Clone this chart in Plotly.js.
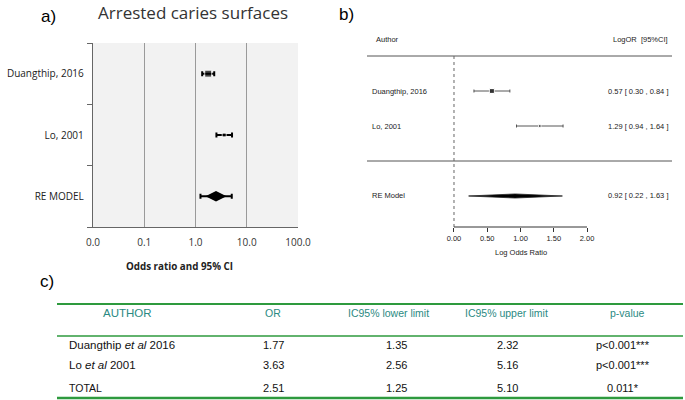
<!DOCTYPE html>
<html><head><meta charset="utf-8">
<script src="https://cdn.plot.ly/plotly-3.0.1.min.js"></script>
<style>html,body{margin:0;padding:0;background:#fff}#chart{width:685px;height:400px}</style>
</head><body><div id="chart"></div>
<script>
// ---------- Panel a data (odds ratios, log scale) ----------
const studiesA = ['Duangthip, 2016', 'Lo, 2001'];
const oddsRatiosA = [1.77, 3.63];
const lowerA = [1.35, 2.56];
const upperA = [2.32, 5.16];
const modelLabelA = 'RE MODEL';
const modelOR = [2.51];
const modelLower = [1.25];
const modelUpper = [5.10];
const tickValsA = [0.01, 0.1, 1, 10, 100];
const tickTextA = ['0.0', '0.1', '1.0', '10.0', '100.0'];

// ---------- Panel b data (log odds ratios) ----------
const studiesB = ['Duangthip, 2016', 'Lo, 2001'];
const logOR = [0.57, 1.29];
const logLower = [0.30, 0.94];
const logUpper = [0.84, 1.64];
const modelLabelB = 'RE Model';
const modelLogOR = [0.92];
const modelLogLower = [0.22];
const modelLogUpper = [1.63];
const tickValsB = [0, 0.5, 1, 1.5, 2];
const tickTextB = ['0.00', '0.50', '1.00', '1.50', '2.00'];

// ---------- Panel c table ----------
const tableHeader = ['AUTHOR', 'OR', 'IC95% lower limit', 'IC95% upper limit', 'p-value'];
const tableAuthors = ['Duangthip <i>et al</i> 2016', 'Lo <i>et al</i> 2001', 'TOTAL'];
const tableOR = ['1.77', '3.63', '2.51'];
const tableLower = ['1.35', '2.56', '1.25'];
const tableUpper = ['2.32', '5.16', '5.10'];
const tablePvalue = ['p&lt;0.001***', 'p&lt;0.001***', '0.011*'];

// ---------- helpers ----------
const W = 685, H = 400;
const PX = x => x / W;
const PY = y => 1 - y / H;
const fontA = 'Open Sans, DejaVu Sans, sans-serif';
const fontB = 'Liberation Sans, Arial, sans-serif';

const traces = [];
const annotations = [];
const shapes = [];

// ---------- Panel a ----------
traces.push({
  type: 'scatter', mode: 'markers', xaxis: 'x', yaxis: 'y',
  x: oddsRatiosA, y: studiesA,
  marker: {symbol: 'square', size: [7, 4], color: '#000'},
  error_x: {type: 'data', symmetric: false,
    array: oddsRatiosA.map((v, i) => upperA[i] - v),
    arrayminus: oddsRatiosA.map((v, i) => v - lowerA[i]),
    color: '#000', thickness: 2, width: 2.5},
  hoverinfo: 'skip', showlegend: false
});
traces.push({
  type: 'scatter', mode: 'markers', xaxis: 'x', yaxis: 'y',
  x: modelOR, y: [modelLabelA],
  marker: {symbol: 'diamond-wide', size: 15, color: '#000'},
  error_x: {type: 'data', symmetric: false,
    array: modelOR.map((v, i) => modelUpper[i] - v),
    arrayminus: modelOR.map((v, i) => v - modelLower[i]),
    color: '#000', thickness: 2, width: 2.5},
  hoverinfo: 'skip', showlegend: false
});
shapes.push({type: 'rect', xref: 'x domain', yref: 'y domain', x0: 0, x1: 1, y0: 0, y1: 1,
  fillcolor: '#f2f2f2', line: {width: 0}, layer: 'below'});
annotations.push({xref: 'paper', yref: 'paper', x: PX(193), y: PY(13), text: 'Arrested caries surfaces',
  showarrow: false, xanchor: 'center', yanchor: 'middle', font: {family: fontA, size: 17, color: '#333'}});
annotations.push({xref: 'paper', yref: 'paper', x: PX(39), y: PY(16), text: 'a)',
  showarrow: false, xanchor: 'left', yanchor: 'middle', font: {family: fontB, size: 17, color: '#000'}});
annotations.push({xref: 'paper', yref: 'paper', x: PX(179), y: PY(266), text: '<b>Odds ratio and 95% CI</b>',
  showarrow: false, xanchor: 'center', yanchor: 'middle', font: {family: fontA, size: 9.8, color: '#222'}});

// ---------- Panel b ----------
const nB = studiesB.length;
const rowsB = studiesB.map((s, i) => nB - i);
const modelRowB = -1;
const headerRowB = nB + 1.46;
const lineRowsB = [nB + 1, 0];
const yMinB = -1.886, yMaxB = 4.029;

traces.push({
  type: 'scatter', mode: 'markers', xaxis: 'x2', yaxis: 'y2',
  x: logOR, y: rowsB,
  marker: {symbol: 'square', size: [5, 2.5], color: '#000'},
  error_x: {type: 'data', symmetric: false,
    array: logOR.map((v, i) => logUpper[i] - v),
    arrayminus: logOR.map((v, i) => v - logLower[i]),
    color: '#444', thickness: 0.9, width: 1.5},
  hoverinfo: 'skip', showlegend: false
});
const hB = 0.058;
traces.push({
  type: 'scatter', mode: 'lines', xaxis: 'x2', yaxis: 'y2',
  x: [modelLogLower[0], modelLogOR[0], modelLogUpper[0], modelLogOR[0], modelLogLower[0]],
  y: [modelRowB, modelRowB + hB, modelRowB, modelRowB - hB, modelRowB],
  fill: 'toself', fillcolor: '#000', line: {color: '#222', width: 0.8},
  hoverinfo: 'skip', showlegend: false
});
lineRowsB.forEach(r => shapes.push({type: 'line', xref: 'x2 domain', yref: 'y2', x0: 0, x1: 1, y0: r, y1: r,
  line: {color: '#555', width: 1}}));
shapes.push({type: 'line', xref: 'x2', yref: 'y2', x0: 0, x1: 0, y0: nB + 1, y1: yMinB,
  line: {color: '#666', width: 1, dash: 'dot'}});
shapes.push({type: 'line', xref: 'x2', yref: 'y2 domain', x0: tickValsB[0], x1: tickValsB[tickValsB.length - 1], y0: 0, y1: 0,
  line: {color: '#333', width: 1}});
annotations.push({xref: 'paper', yref: 'paper', x: PX(337), y: PY(14), text: 'b)',
  showarrow: false, xanchor: 'left', yanchor: 'middle', font: {family: fontB, size: 17, color: '#000'}});
annotations.push({xref: 'paper', yref: 'y2', x: PX(374), y: headerRowB, text: 'Author',
  showarrow: false, xanchor: 'left', yanchor: 'middle', font: {family: fontB, size: 7.5, color: '#222'}});
annotations.push({xref: 'paper', yref: 'y2', x: PX(670), y: headerRowB, text: 'LogOR  [95%CI]',
  showarrow: false, xanchor: 'right', yanchor: 'middle', font: {family: fontB, size: 7.5, color: '#222'}});
studiesB.forEach((s, i) => {
  annotations.push({xref: 'paper', yref: 'y2', x: PX(370), y: rowsB[i], text: s,
    showarrow: false, xanchor: 'left', yanchor: 'middle', font: {family: fontB, size: 7.5, color: '#222'}});
  annotations.push({xref: 'paper', yref: 'y2', x: PX(670), y: rowsB[i],
    text: `${logOR[i].toFixed(2)} [ ${logLower[i].toFixed(2)} , ${logUpper[i].toFixed(2)} ]`,
    showarrow: false, xanchor: 'right', yanchor: 'middle', font: {family: fontB, size: 7.5, color: '#222'}});
});
annotations.push({xref: 'paper', yref: 'y2', x: PX(370), y: modelRowB, text: modelLabelB,
  showarrow: false, xanchor: 'left', yanchor: 'middle', font: {family: fontB, size: 7.5, color: '#222'}});
annotations.push({xref: 'paper', yref: 'y2', x: PX(670), y: modelRowB,
  text: `${modelLogOR[0].toFixed(2)} [ ${modelLogLower[0].toFixed(2)} , ${modelLogUpper[0].toFixed(2)} ]`,
  showarrow: false, xanchor: 'right', yanchor: 'middle', font: {family: fontB, size: 7.5, color: '#222'}});
annotations.push({xref: 'x2', yref: 'paper', x: 1, y: PY(253), text: 'Log Odds Ratio',
  showarrow: false, xanchor: 'center', yanchor: 'middle', font: {family: fontB, size: 7.5, color: '#222'}});

// ---------- Panel c ----------
annotations.push({xref: 'paper', yref: 'paper', x: PX(38), y: PY(281), text: 'c)',
  showarrow: false, xanchor: 'left', yanchor: 'middle', font: {family: fontB, size: 17, color: '#000'}});
const green = '#2e9a3e';
const teal = '#2b8a82';
const headerX = [128, 273, 388, 506, 627];
const headerY = 313;
tableHeader.forEach((t, j) => annotations.push({xref: 'paper', yref: 'paper', x: PX(headerX[j]), y: PY(headerY), text: t,
  showarrow: false, xanchor: 'center', yanchor: 'middle', font: {family: fontB, size: j === 0 ? 11.5 : 10.5, color: teal}}));
const rowY = [345, 365, 388];
const columns = [tableOR, tableLower, tableUpper, tablePvalue];
const colX = [273, 396, 507, 623];
tableAuthors.forEach((a, i) => {
  const isTotal = i === tableAuthors.length - 1;
  annotations.push({xref: 'paper', yref: 'paper', x: PX(67), y: PY(rowY[i]), text: a,
    showarrow: false, xanchor: 'left', yanchor: 'middle', font: {family: fontB, size: isTotal ? 10.5 : 11.5, color: '#111'}});
  columns.forEach((col, j) => annotations.push({xref: 'paper', yref: 'paper', x: PX(colX[j]), y: PY(rowY[i]), text: col[i],
    showarrow: false, xanchor: 'center', yanchor: 'middle', font: {family: fontB, size: 11, color: '#111'}}));
});
[[304, 2.2], [336, 1.5], [398, 2.5]].forEach(([y, w]) => shapes.push({type: 'line', xref: 'paper', yref: 'paper',
  x0: PX(57), x1: PX(683), y0: PY(y), y1: PY(y), line: {color: green, width: w}}));

const layout = {
  width: W, height: H,
  margin: {l: 0, r: 0, t: 0, b: 0},
  paper_bgcolor: '#fff', plot_bgcolor: 'rgba(0,0,0,0)',
  showlegend: false,
  xaxis: {
    domain: [PX(93), PX(298)], anchor: 'y', type: 'log', range: [-2, 2],
    tickvals: tickValsA, ticktext: tickTextA, ticks: '', ticklabelstandoff: 6,
    showgrid: true, gridcolor: '#9a9a9a', gridwidth: 1.2,
    showline: true, linecolor: '#666', linewidth: 1.2, zeroline: false,
    tickfont: {family: fontA, size: 10, color: '#333'}, automargin: false, fixedrange: true
  },
  yaxis: {
    domain: [PY(227), PY(43)], anchor: 'x', type: 'category',
    categoryorder: 'array', categoryarray: [modelLabelA, studiesA[1], studiesA[0]],
    range: [-0.5, 2.5], tickson: 'boundaries', ticks: 'outside', ticklen: 5, tickcolor: '#666',
    ticklabelstandoff: 6,
    showline: true, linecolor: '#666', linewidth: 1.2, showgrid: false, zeroline: false,
    tickfont: {family: fontA, size: 10, color: '#222'}, automargin: false, fixedrange: true
  },
  xaxis2: {
    domain: [PX(367), PX(672)], anchor: 'y2', range: [-1.308, 3.278],
    tickvals: tickValsB, ticktext: tickTextB, ticks: 'outside', ticklen: 4, tickcolor: '#333',
    showline: false, showgrid: false, zeroline: false,
    tickfont: {family: fontB, size: 7.5, color: '#222'}, automargin: false, fixedrange: true
  },
  yaxis2: {
    domain: [PY(227), PY(20)], anchor: 'x2', range: [yMinB, yMaxB], visible: false, fixedrange: true
  },
  shapes: shapes,
  annotations: annotations
};

Plotly.newPlot('chart', traces, layout, {displayModeBar: false, staticPlot: true});
</script></body></html>
